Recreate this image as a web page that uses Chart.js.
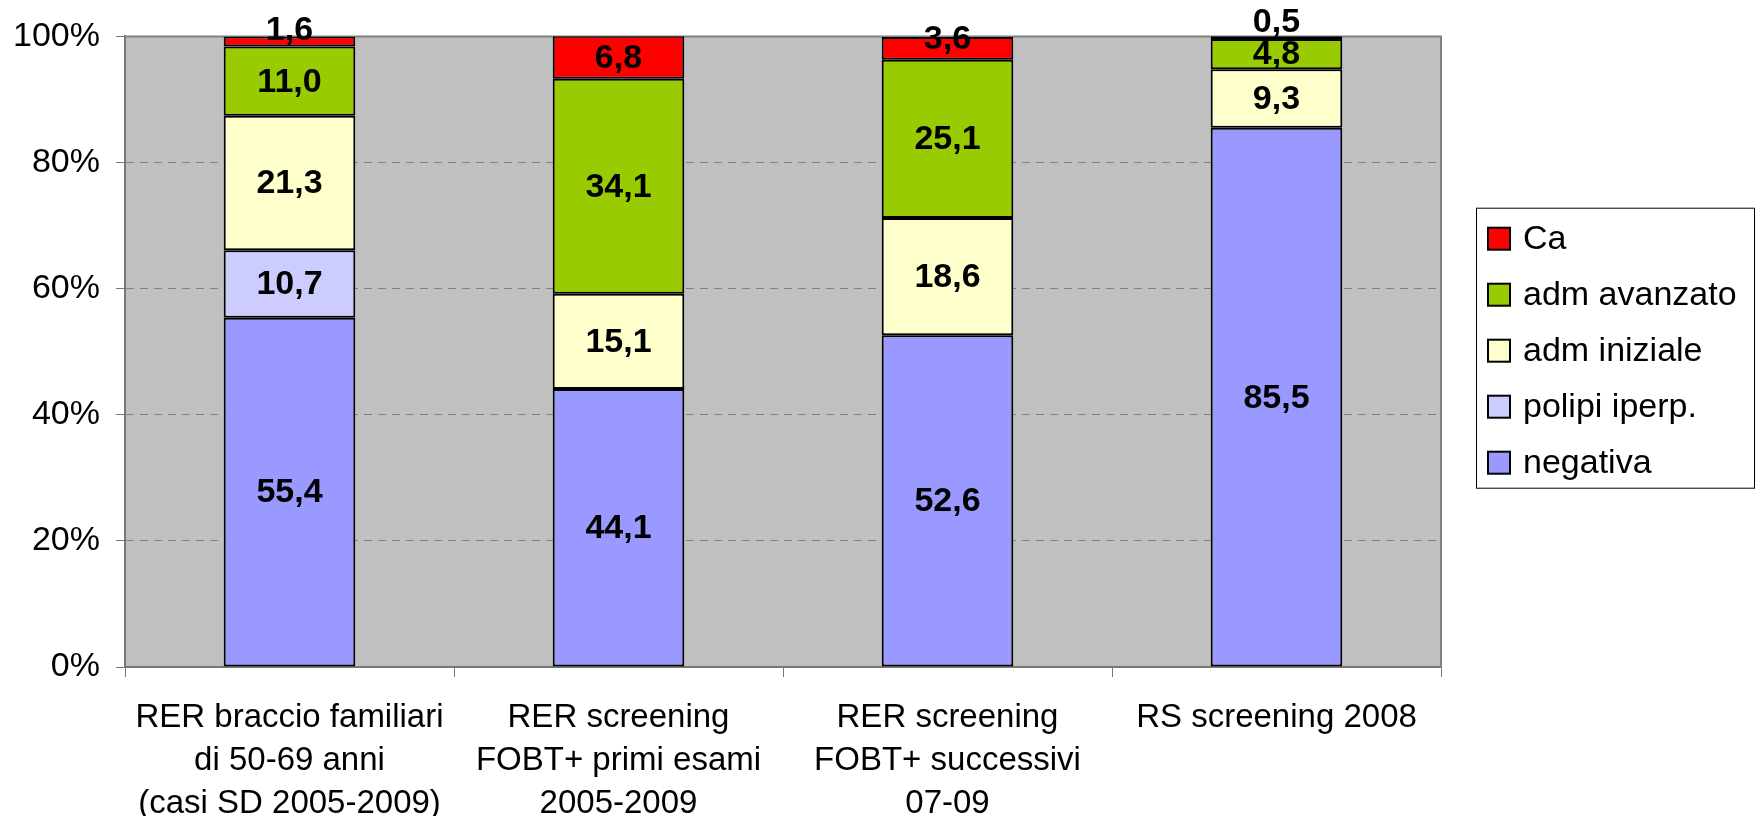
<!DOCTYPE html>
<html>
<head>
<meta charset="utf-8">
<script src="https://cdn.jsdelivr.net/npm/chart.js@4/dist/chart.umd.min.js"></script>
<style>
  html, body { margin: 0; padding: 0; background: #ffffff; }
  #wrap { width: 1760px; height: 816px; }
</style>
</head>
<body>
<div id="wrap"><canvas id="c" width="1760" height="816"></canvas></div>
<script>
// Categories (multi-line labels) and stacked percentages per outcome
const categories = [
  ["RER braccio familiari", "di 50-69 anni", "(casi SD 2005-2009)"],
  ["RER screening", "FOBT+ primi esami", "2005-2009"],
  ["RER screening", "FOBT+ successivi", "07-09"],
  ["RS screening 2008"]
];
const negativa    = [55.4, 44.1, 52.6, 85.5];
const polipiIperp = [10.7, null, null, null];
const admIniziale = [21.3, 15.1, 18.6, 9.3];
const admAvanzato = [11.0, 34.1, 25.1, 4.8];
const ca          = [1.6, 6.8, 3.6, 0.5];
const yTickValues = [0, 20, 40, 60, 80, 100];

const FONT = "'Liberation Sans', Arial, sans-serif";

// Grey plot background and the grey frame on top/right
const plotBackground = {
  id: 'plotBackground',
  beforeDraw(chart) {
    const { ctx, chartArea: a } = chart;
    ctx.save();
    ctx.fillStyle = '#C0C0C0';
    ctx.fillRect(a.left, a.top, a.right - a.left, a.bottom - a.top);
    ctx.restore();
  },
  beforeDatasetsDraw(chart) {
    const { ctx, chartArea: a } = chart;
    ctx.save();
    ctx.strokeStyle = '#808080';
    ctx.lineWidth = 2;
    ctx.beginPath();
    ctx.moveTo(a.left, a.top);
    ctx.lineTo(a.right, a.top);
    ctx.lineTo(a.right, a.bottom);
    ctx.stroke();
    ctx.restore();
  }
};

// Value labels centred in each segment (decimal comma); thin segments get the label lifted
const segmentLabels = {
  id: 'segmentLabels',
  afterDatasetsDraw(chart) {
    const { ctx } = chart;
    ctx.save();
    ctx.font = "bold 34px " + FONT;
    ctx.fillStyle = '#000';
    ctx.textAlign = 'center';
    ctx.textBaseline = 'middle';
    chart.data.datasets.forEach((ds, di) => {
      const meta = chart.getDatasetMeta(di);
      meta.data.forEach((el, i) => {
        const v = ds.data[i];
        if (v === null || v === undefined || v === 0) return;
        const h = Math.abs(el.base - el.y);
        let y = (el.y + el.base) / 2;
        if (h < 30) y = Math.min(y - 10, el.base - 17);
        ctx.fillText(v.toFixed(1).replace('.', ','), el.x, y + 1);
      });
    });
    ctx.restore();
  }
};

// Boxed legend to the right of the plot, top series first
const boxedLegend = {
  id: 'boxedLegend',
  afterDraw(chart) {
    const { ctx, chartArea: a } = chart;
    const w = 278, h = 280;
    const left = a.right + 35;
    const top = (a.top + a.bottom) / 2 - 144;
    ctx.save();
    ctx.fillStyle = '#fff';
    ctx.fillRect(left, top, w, h);
    ctx.strokeStyle = '#000';
    ctx.lineWidth = 1;
    ctx.strokeRect(left + 0.5, top + 0.5, w, h);
    const items = chart.data.datasets.slice().reverse();
    ctx.font = "34px " + FONT;
    ctx.textBaseline = 'middle';
    ctx.textAlign = 'left';
    items.forEach((ds, k) => {
      const cy = top + 31 + k * 56;
      ctx.fillStyle = ds.backgroundColor;
      ctx.fillRect(left + 12, cy - 11, 22, 22);
      ctx.lineWidth = 2;
      ctx.strokeStyle = '#000';
      ctx.strokeRect(left + 12, cy - 11, 22, 22);
      ctx.fillStyle = '#000';
      ctx.fillText(ds.label, left + 47, cy + 1);
    });
    ctx.restore();
  }
};

const mk = (label, data, color) => ({
  label, data,
  backgroundColor: color,
  borderColor: '#000',
  borderWidth: 2,
  borderSkipped: false,
  barPercentage: 0.40,
  categoryPercentage: 1.0
});

new Chart(document.getElementById('c'), {
  type: 'bar',
  data: {
    labels: categories,
    datasets: [
      mk('negativa', negativa, '#9999FF'),
      mk('polipi iperp.', polipiIperp, '#CCCCFF'),
      mk('adm iniziale', admIniziale, '#FFFFCC'),
      mk('adm avanzato', admAvanzato, '#99CC00'),
      mk('Ca', ca, '#FF0000')
    ]
  },
  options: {
    responsive: false,
    animation: false,
    devicePixelRatio: 1,
    layout: { padding: { top: 33, right: 319, left: 0, bottom: 0 } },
    plugins: {
      legend: { display: false },
      tooltip: { enabled: false }
    },
    scales: {
      x: {
        stacked: true,
        afterFit(scale) { scale.height = 149; },
        grid: {
          drawOnChartArea: false,
          tickLength: 10,
          tickColor: '#777',
          tickWidth: 1,
          offset: true
        },
        border: { display: true, color: '#777', width: 2 },
        ticks: {
          color: '#000',
          padding: 20,
          maxRotation: 0,
          autoSkip: false,
          font: { family: FONT, size: 33, lineHeight: 1.29 }
        }
      },
      y: {
        stacked: true,
        min: 0,
        max: 100,
        afterFit(scale) { scale.width = 125; },
        afterBuildTicks(scale) { scale.ticks = yTickValues.map(v => ({ value: v })); },
        grid: {
          color: (c) => (c.tick && (c.tick.value === 0 || c.tick.value === 100)) ? 'rgba(0,0,0,0)' : '#808080',
          lineWidth: 1,
          tickLength: 9,
          tickColor: '#777',
          tickWidth: 1
        },
        border: { display: true, color: '#777', width: 2, dash: [8, 6] },
        ticks: {
          color: '#000',
          padding: 16,
          font: { family: FONT, size: 34 },
          callback: (v) => v + '%'
        }
      }
    }
  },
  plugins: [plotBackground, segmentLabels, boxedLegend]
});
</script>
</body>
</html>
